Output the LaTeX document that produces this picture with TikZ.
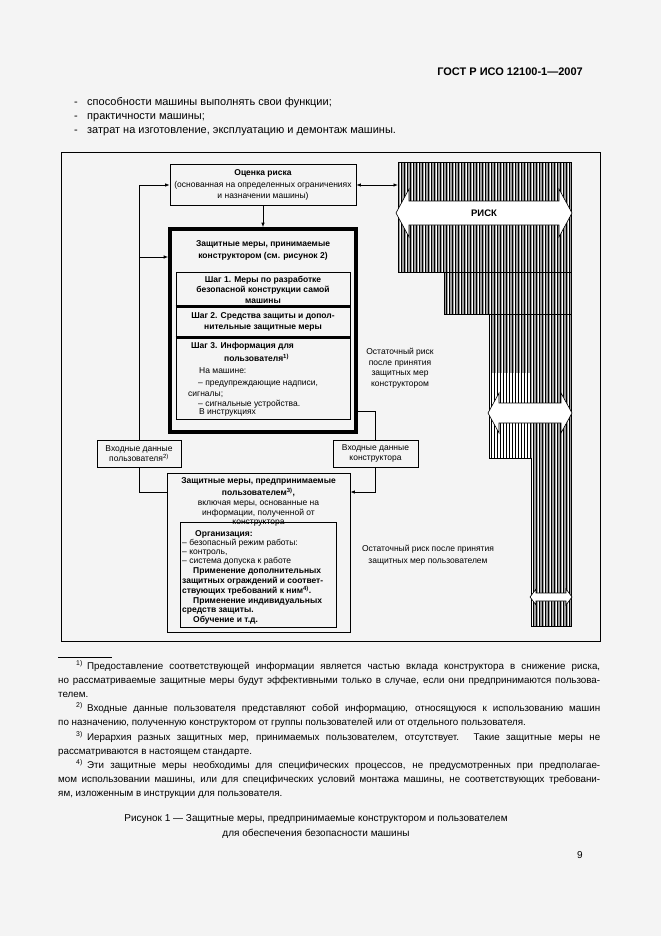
\documentclass[tikz,border=0pt]{standalone}
\usepackage{fontspec}
\setmainfont{Liberation Sans}
\usetikzlibrary{arrows.meta,calc}

\definecolor{pagebg}{RGB}{244,244,244}
\definecolor{riskgray}{RGB}{160,160,160}

\tikzset{
  txt/.style={inner sep=0pt, font=\fontsize{8.5}{10.5}\selectfont},
  btxt/.style={inner sep=0pt, font=\fontsize{8.5}{10.5}\selectfont\bfseries},
  ltxt/.style={txt, anchor=base west},
  lbtxt/.style={btxt, anchor=base west},
  ctxt/.style={txt, anchor=base},
  cbtxt/.style={btxt, anchor=base},
  box/.style={draw, line width=0.8pt},
  flow/.style={-{Latex[length=4.5pt,width=3.5pt]}, line width=0.8pt},
  body/.style={inner sep=0pt, anchor=base west, font=\fontsize{11}{13}\selectfont},
  note/.style={inner sep=0pt, anchor=base west, font=\fontsize{9.8}{12}\selectfont},
  bigarrow/.style={fill=white, draw, line width=0.6pt, line join=miter},
}

\begin{document}
\begin{tikzpicture}[x=1pt,y=-1pt]
\fill[pagebg] (0,0) rectangle (661,936);
\useasboundingbox (0,0) rectangle (661,936);

%%%%% PAGE HEAD %%%%%
\node[anchor=base east, inner sep=0pt, font=\fontsize{11}{13}\selectfont\bfseries] (gost) at (583,76) {ГОСТ Р ИСО 12100-1—2007};
\foreach \yy/\itemtext [count=\i] in {105.5/{способности машины выполнять свои функции;},119.5/{практичности машины;},133.5/{затрат на изготовление, эксплуатацию и демонтаж машины.}}{
  \node[body] (dash\i) at (74,\yy) {-};
  \node[body] (item\i) at (87,\yy) {\itemtext};
}

%%%%% FRAME %%%%%
\draw[line width=0.8pt] (61,152) rectangle (600,641);

%%%%% RISK BARS %%%%%
\begin{scope}
  \clip (398,162) -- (571,162) -- (571,626) -- (531,626) -- (531,458) -- (489,458) -- (489,314) -- (444,314) -- (444,272) -- (398,272) -- cycle;
  \fill[riskgray] (398,162) rectangle (571,626);
  \foreach \xx in {400,406,...,571} \draw[white, line width=0.8pt] (\xx,162) -- (\xx,626);
  \fill[white] (489,373) rectangle (531,458);
  \foreach \xx in {398.5,401.5,...,571} \draw[line width=0.45pt] (\xx,162) -- (\xx,626);
\end{scope}
\draw[line width=0.7pt] (398,162) -- (571,162) -- (571,626) -- (531,626) -- (531,458) -- (489,458) -- (489,314) -- (444,314) -- (444,272) -- (398,272) -- cycle;
\draw[line width=1pt] (444,272) -- (571,272) (489,314) -- (571,314);
\draw[bigarrow] (396,213) -- (409,189) -- (409,201) -- (559,201) -- (559,189) -- (572,213) -- (559,237) -- (559,225) -- (409,225) -- (409,237) -- cycle;
\node[inner sep=0pt, font=\fontsize{9.5}{11}\selectfont\bfseries] (risklabel) at (484,213) {РИСК};
\draw[bigarrow] (488,413) -- (499,393) -- (499,403) -- (561,403) -- (561,393) -- (572,413) -- (561,433) -- (561,423) -- (499,423) -- (499,433) -- cycle;
\draw[bigarrow] (530,597) -- (536,589) -- (536,593) -- (566,593) -- (566,589) -- (572,597) -- (566,605) -- (566,601) -- (536,601) -- (536,605) -- cycle;
\coordinate (riskbar) at (398,185);

%%%%% RISK ASSESSMENT %%%%%
\node[box, txt, align=center, minimum width=186pt, minimum height=41pt, font=\fontsize{8.5}{11.5}\selectfont] (risk) at (263,185) {\textbf{Оценка риска}\\(основанная на определенных ограничениях\\и назначении машины)};

%%%%% DESIGNER MEASURES %%%%%
\node[draw, line width=3.6pt, minimum width=186pt, minimum height=203pt] (design) at (263,330.5) {};
\node[btxt, align=center, font=\fontsize{8.5}{12}\selectfont\bfseries] (dtitle) at (263,250) {Защитные меры, принимаемые\\конструктором (см. рисунок 2)};
\node[box, btxt, align=center, minimum width=174pt, minimum height=35pt] (step1) at (263,289.5) {Шаг 1. Меры по разработке\\безопасной конструкции самой\\машины};
\node[box, btxt, align=center, minimum width=174pt, minimum height=30pt] (step2) at (263,322) {Шаг 2. Средства защиты и допол-\\нительные защитные меры};
\draw[line width=3pt] (step2.north west) -- (step2.north east);
\draw[line width=3pt] (step2.south west) -- (step2.south east);
\node[box, minimum width=174pt, minimum height=82pt] (step3) at (263,378) {};
\node[lbtxt] (s3a) at (191,348) {Шаг 3. Информация для};
\node[lbtxt] (s3b) at (224,361) {пользователя\textsuperscript{1)}};
\node[ltxt] (s3c) at (199,373) {На машине:};
\node[ltxt] (s3d) at (198,385) {– предупреждающие надписи,};
\node[ltxt] (s3e) at (188,396) {сигналы;};
\node[ltxt] (s3f) at (198,406) {– сигнальные устройства.};
\node[ltxt] (s3g) at (199,414.5) {В инструкциях};

%%%%% INPUTS %%%%%
\node[box, txt, align=center, minimum width=84pt, minimum height=27pt] (uin) at (139,453.5) {Входные данные\\пользователя\textsuperscript{2)}};
\node[box, txt, align=center, minimum width=85pt, minimum height=27pt] (din) at (375.5,453.5) {Входные данные\\конструктора};

%%%%% USER MEASURES %%%%%
\node[box, minimum width=183pt, minimum height=159pt] (user) at (258.5,552.5) {};
\node[cbtxt] (u1) at (258.5,483) {Защитные меры, предпринимаемые};
\node[cbtxt] (u2) at (258.5,495) {пользователем\textsuperscript{3)},};
\node[ctxt] (u3) at (258.5,505) {включая меры, основанные на};
\node[ctxt] (u4) at (258.5,515) {информации, полученной от};
\node[ctxt] (u5) at (258.5,524) {конструктора};
\node[box, minimum width=156pt, minimum height=105pt] (org) at (258,574.5) {};
\node[lbtxt] (o1) at (195,536) {Организация:};
\node[ltxt] (o2) at (182,545.5) {– безопасный режим работы:};
\node[ltxt] (o3) at (182,554.5) {– контроль,};
\node[ltxt] (o4) at (182,563.5) {– система допуска к работе};
\node[lbtxt] (o5) at (193,573.5) {Применение дополнительных};
\node[lbtxt] (o6) at (182,583) {защитных ограждений и соответ-};
\node[lbtxt] (o7) at (182,593) {ствующих требований к ним\textsuperscript{4)}.};
\node[lbtxt] (o8) at (193,603) {Применение индивидуальных};
\node[lbtxt] (o9) at (182,612.5) {средств защиты.};
\node[lbtxt] (o10) at (193,622) {Обучение и т.д.};

%%%%% RESIDUAL RISK %%%%%
\node[txt, align=center] (resd) at (400,368) {Остаточный риск\\после принятия\\защитных мер\\конструктором};
\node[txt, align=center, font=\fontsize{8.5}{12}\selectfont] (resu) at (428,555) {Остаточный риск после принятия\\защитных мер пользователем};

%%%%% CONNECTORS %%%%%
\coordinate (dIn) at (design.west |- 0,257);
\coordinate (dOut) at (design.east |- 0,411);
\coordinate (uIn) at (user.east |- 0,492);
\draw[flow] (uin.north) |- (risk.west);
\draw[flow] (uin.north |- dIn) -- (dIn);
\draw[flow] (risk.south) -- (design.north);
\draw[{Latex[length=4.5pt,width=3.5pt]}-{Latex[length=4.5pt,width=3.5pt]}, line width=0.8pt] (risk.east) -- (riskbar);
\draw[line width=0.8pt] (dOut) -| (din.north);
\draw[flow] (din.south) |- (uIn);
\draw[line width=0.8pt] (uin.south) |- (user.west |- uIn);

%%%%% FOOTNOTES %%%%%
\draw[line width=0.6pt] (58,657) -- (112,657);
\node[note] (fs1) at (76,669) {\textsuperscript{1)}};
\node[note] (fn1a) at (87,669) {\makebox[513pt][s]{Предоставление соответствующей информации является частью вклада конструктора в снижение риска,}};
\node[note] (fn1b) at (58,683) {\makebox[542pt][s]{но рассматриваемые защитные меры будут эффективными только в случае, если они предпринимаются пользова-}};
\node[note] (fn1c) at (58,697) {телем.};
\node[note] (fs2) at (76,711) {\textsuperscript{2)}};
\node[note] (fn2a) at (87,711) {\makebox[513pt][s]{Входные данные пользователя представляют собой информацию, относящуюся к использованию машин}};
\node[note] (fn2b) at (58,725) {по назначению, полученную конструктором от группы пользователей или от отдельного пользователя.};
\node[note] (fs3) at (76,740) {\textsuperscript{3)}};
\node[note] (fn3a) at (87,740) {\makebox[513pt][s]{Иерархия разных защитных мер, принимаемых пользователем, отсутствует. Такие защитные меры не}};
\node[note] (fn3b) at (58,754) {рассматриваются в настоящем стандарте.};
\node[note] (fs4) at (76,768) {\textsuperscript{4)}};
\node[note] (fn4a) at (87,768) {\makebox[513pt][s]{Эти защитные меры необходимы для специфических процессов, не предусмотренных при предполагае-}};
\node[note] (fn4b) at (58,782) {\makebox[542pt][s]{мом использовании машины, или для специфических условий монтажа машины, не соответствующих требовани-}};
\node[note] (fn4c) at (58,796) {ям, изложенным в инструкции для пользователя.};

%%%%% CAPTION %%%%%
\node[anchor=base, inner sep=0pt, font=\fontsize{10}{12}\selectfont] (cap1) at (316,821) {Рисунок 1 — Защитные меры, предпринимаемые конструктором и пользователем};
\node[anchor=base, inner sep=0pt, font=\fontsize{10}{12}\selectfont] (cap2) at (316,836) {для обеспечения безопасности машины};
\node[anchor=base east, inner sep=0pt, font=\fontsize{10}{12}\selectfont] (pageno) at (583,858) {9};
\end{tikzpicture}
\end{document}
